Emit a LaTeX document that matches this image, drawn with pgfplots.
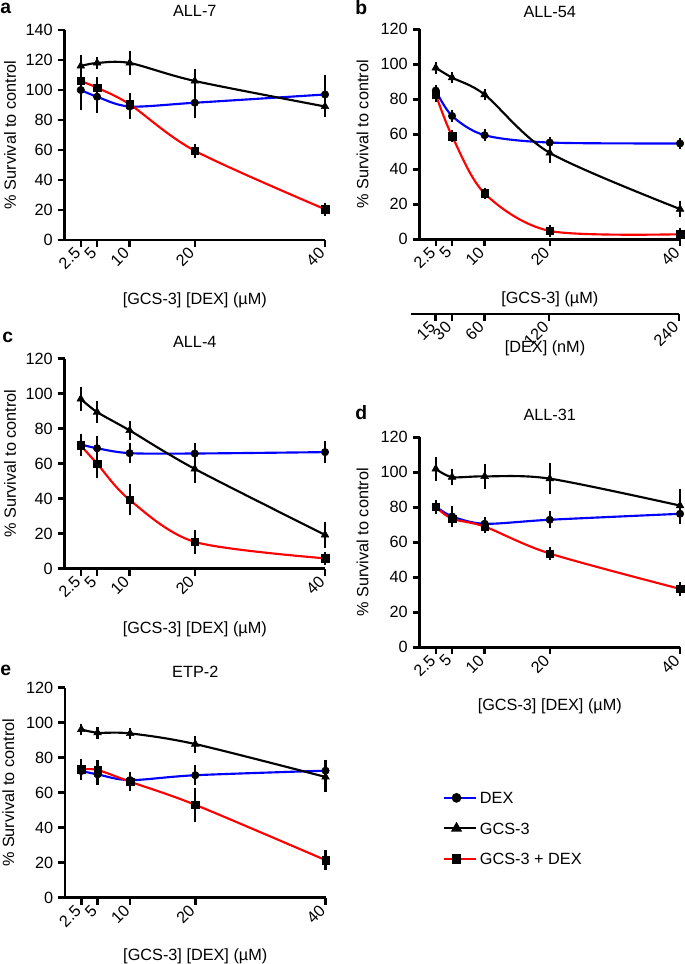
\documentclass[border=0pt]{standalone}
\usepackage{fontspec}
\setmainfont{Liberation Sans}
\usepackage{pgfplots}
\usepackage{pgfplotstable}
\pgfplotsset{compat=1.18}
\newcommand\fs{\fontsize{12.2}{14}\selectfont}

\pgfplotstableread{
x   dex  dexe gcs  gcse comb  combe
2.5 100  10   116  4    106   5
5   95.5 7.5  118  1    101.5 4
10  89   5    118  4.5  90.5  4
20  91.5 7    106  5    59.5  1.5
40  97   10   89   3.5  20.5  1
}\tA
\pgfplotstableread{
x   dex  dexe gcs  gcse comb combe
2.5 85   0.5  98   0.5  82.7 1.5
5   70.5 0.5  92.4 0.5  59   0.5
10  59.5 0.5  82.7 0.5  26.2 0.5
20  55.3 0.5  49.4 3    4.8  0.5
40  54.8 0.5  17.3 2    2.9  0.5
}\tB
\pgfplotstableread{
x   dex  dexe gcs  gcse comb combe
2.5 71   3    97   4    70.4 3
5   68.8 4    89.5 3.5  60   5.5
10  66   3    79   2.5  39.3 6
20  65.8 3    57   5    15.3 4
40  66.6 3.5  19.3 4.5  5.9  1
}\tC
\pgfplotstableread{
x   dex  dexe gcs  gcse comb combe
2.5 80.5 1    102  4    80.2 1
5   74.8 3    97.3 2    73.5 1
10  70.6 1    97.7 4.5  69   1
20  72.9 2    96.4 6    53.6 1
40  76.3 3    81   6.5  33.4 1
}\tD
\pgfplotstableread{
x   dex  dexe gcs  gcse comb combe
2.5 72.4 2    96.2 0.5  73.3 3
5   70.5 3    94.3 0.5  73   3
10  67.2 2    93.9 0.5  66.3 2.5
20  70   3    87.8 2    53.1 7
40  72.6 3.5  69   6    21.5 3
}\tE

\pgfplotsset{
  panel/.style={
    scale only axis, width=195.4pt, height=157.5pt,
    axis lines=left, axis line style={line width=1.9pt,-},
    xmin=0, xmax=40, ymin=0,
    xtick={2.5,5,10,20,40}, xticklabels={2.5,5,10,20,40},
    tick style={line width=1.9pt,black}, major tick length=5.25pt, tick align=outside,
    x tick label style={rotate=45, anchor=east, font=\fs},
    y tick label style={font=\fs},
    /pgf/number format/assume math mode=true,
    ylabel={\% Survival to control},
    xlabel={[GCS-3] [DEX] (µM)},
    label style={font=\fs},
    title style={font=\fs, at={(axis description cs:0.5,1)}, anchor=center},
    clip=false,
  },
  curve/.style={line width=1.6pt, smooth, no marks},
  pts/.style={only marks, black, mark options={fill=black, solid},
    error bars/y dir=both, error bars/y explicit,
    error bars/error bar style={line width=1.7pt, black},
    error bars/error mark options={line width=1.7pt, mark size=3.7pt, black}},
}
\newcommand\series[1]{%
  \addplot[blue, curve] table[x=x,y=dex]{#1};
  \addplot[black, curve] table[x=x,y=gcs]{#1};
  \addplot[red, curve] table[x=x,y=comb]{#1};
  \addplot[pts, mark=*, mark size=2.8pt] table[x=x,y=dex,y error=dexe]{#1};
  \addplot[pts, mark=triangle*, mark size=3.3pt] table[x=x,y=gcs,y error=gcse]{#1};
  \addplot[pts, mark=square*, mark size=2.8pt] table[x=x,y=comb,y error=combe]{#1};
}

\begin{document}
\begin{tikzpicture}
\path[use as bounding box] (0pt,0pt) rectangle (513.75pt,723pt);

% a
\begin{axis}[panel, at={(48.375pt,543pt)}, anchor=origin, ymax=140, ytick={0,20,...,140},
  title={ALL-7}, title style={yshift=8.25pt},
  ylabel style={at={(axis description cs:0,0.5)}, anchor=center, yshift=40.9pt},
  xlabel style={at={(axis description cs:0.5,0)}, anchor=center, yshift=-45pt}]
\series{\tA}
\end{axis}

% b
\begin{axis}[panel, at={(314.625pt,543.5pt)}, anchor=origin, ymax=120, ytick={0,20,...,120},
  title={ALL-54}, title style={yshift=7.2pt},
  xlabel={[GCS-3] (µM)},
  ylabel style={at={(axis description cs:0,0.5)}, anchor=center, yshift=42.75pt},
  xlabel style={at={(axis description cs:0.5,0)}, anchor=center, yshift=-45pt}]
\series{\tB}
\end{axis}
\begin{axis}[scale only axis, at={(308.25pt,487.5pt)}, anchor=south west,
  width=201pt, height=1pt, xmin=-1.3, xmax=40, ymin=0, ymax=1,
  axis x line=bottom, hide y axis, axis line style={line width=1.9pt,-},
  xtick={2.5,5,10,20,40}, xticklabels={15,30,60,120,240},
  tick style={line width=1.9pt,black}, major tick length=5.25pt, tick align=outside,
  x tick label style={rotate=45, anchor=east, font=\fs},
  xlabel={[DEX] (nM)}, label style={font=\fs},
  xlabel style={at={(axis description cs:0.5,0)}, anchor=center, yshift=-26pt},
  clip=false]
\addplot[draw=none] coordinates {(0,0)};
\end{axis}

% c
\begin{axis}[panel, at={(48.375pt,296.5pt)}, anchor=origin, ymax=120, ytick={0,20,...,120},
  title={ALL-4}, title style={yshift=6.5pt},
  ylabel style={at={(axis description cs:0,0.5)}, anchor=center, yshift=40.9pt},
  xlabel style={at={(axis description cs:0.5,0)}, anchor=center, yshift=-45.5pt}]
\series{\tC}
\end{axis}

% d
\begin{axis}[panel, at={(314.625pt,237.5pt)}, anchor=origin, ymax=120, ytick={0,20,...,120},
  title={ALL-31}, title style={yshift=11pt},
  ylabel style={at={(axis description cs:0,0.5)}, anchor=center, yshift=42.75pt},
  xlabel style={at={(axis description cs:0.5,0)}, anchor=center, yshift=-44.5pt}]
\series{\tD}
\end{axis}

% e
\begin{axis}[panel, at={(48.75pt,49.7pt)}, anchor=origin, ymax=120, ytick={0,20,...,120},
  title={ETP-2}, title style={yshift=6pt},
  ylabel style={at={(axis description cs:0,0.5)}, anchor=center, yshift=42.5pt},
  xlabel style={at={(axis description cs:0.5,0)}, anchor=center, yshift=-44pt}]
\series{\tE}
\end{axis}

% legend
\begin{axis}[scale only axis, hide axis, at={(332pt,131pt)}, anchor=north west,
  width=100pt, height=80pt, xmin=0, xmax=1, ymin=0, ymax=1,
  legend style={at={(0,1)}, anchor=north west, draw=none, fill=none,
    font=\fs, row sep=10.4pt, inner sep=0pt,
    nodes={inner sep=2pt, text depth=0pt}},
  legend image code/.code={%
    \draw[mark repeat=2, mark phase=2] plot coordinates {(0cm,0cm) (0.33cm,0cm) (0.66cm,0cm)};
    \path (0.66cm,0cm) -- (0.85cm,0cm);},
  legend cell align=left]
\addlegendimage{blue, line width=1.6pt, mark=*, mark options={black, fill=black, mark size=2.8pt}}
\addlegendentry{DEX}
\addlegendimage{black, line width=1.6pt, mark=triangle*, mark options={black, fill=black, mark size=3.3pt}}
\addlegendentry{GCS-3}
\addlegendimage{red, line width=1.6pt, mark=square*, mark options={black, fill=black, mark size=2.8pt}}
\addlegendentry{GCS-3 + DEX}
\end{axis}

% panel letters
\node[anchor=base west, inner sep=0pt, font=\fontsize{14.5}{16}\selectfont\bfseries] at (0pt,712.5pt) {a};
\node[anchor=base west, inner sep=0pt, font=\fontsize{14.5}{16}\selectfont\bfseries] at (266.25pt,711.75pt) {b};
\node[anchor=base west, inner sep=0pt, font=\fontsize{14.5}{16}\selectfont\bfseries] at (1.5pt,465.75pt) {c};
\node[anchor=base west, inner sep=0pt, font=\fontsize{14.5}{16}\selectfont\bfseries] at (266.25pt,408pt) {d};
\node[anchor=base west, inner sep=0pt, font=\fontsize{14.5}{16}\selectfont\bfseries] at (0pt,216pt) {e};
\end{tikzpicture}
\end{document}
